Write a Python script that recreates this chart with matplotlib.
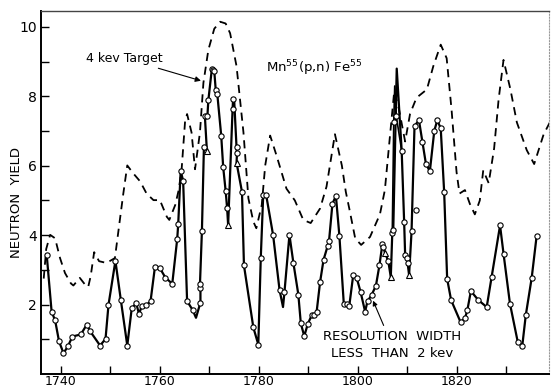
import matplotlib
matplotlib.use("Agg")
import matplotlib.pyplot as plt
import numpy as np

# ---- data ----
# solid curve (line order); marked = 1 -> open circle, 2 -> open triangle, 0 -> no marker (curve vertex)
solid_x = [1737.1, 1738.1, 1738.8, 1739.6, 1740.5, 1741.4, 1742.3, 1744.0, 1745.2, 1745.9,
           1747.9, 1749.0, 1749.6, 1751.0, 1752.1, 1753.4, 1754.3, 1755.2, 1755.8, 1756.3,
           1757.2, 1758.1, 1759.0, 1760.0, 1761.1, 1762.5, 1763.5, 1763.7, 1764.2, 1764.7,
           1765.5, 1766.6, 1767.3, 1768.2, 1768.2, 1768.1, 1768.5, 1768.9, 1769.5, 1769.1,
           1769.6, 1769.8, 1770.5, 1770.8, 1771.0, 1771.3, 1771.6, 1772.4, 1772.8, 1773.3,
           1773.6, 1773.8, 1774.7, 1774.8, 1775.0, 1775.5, 1775.6, 1775.5, 1776.6, 1777.0,
           1778.9, 1779.9, 1780.4, 1780.9, 1781.5, 1782.9, 1784.2, 1784.9, 1785.2, 1786.2,
           1787.0, 1788.0, 1788.5, 1789.2, 1789.9, 1790.7, 1791.2, 1791.7, 1792.4, 1793.1,
           1793.9, 1794.2, 1794.9, 1795.6, 1796.3, 1797.2, 1797.9, 1798.3, 1799.1, 1799.8,
           1800.6, 1801.5, 1802.0, 1802.8, 1803.7, 1804.4, 1805.0, 1805.2, 1805.5, 1806.2,
           1806.7, 1807.0, 1807.2, 1807.9, 1808.9, 1809.4, 1809.6, 1809.9, 1810.1, 1810.4,
           1810.9, 1811.5, 1812.4, 1813.1, 1813.8, 1814.6, 1815.5, 1816.1, 1816.8, 1817.5,
           1818.1, 1818.9, 1820.8, 1821.7, 1822.2, 1822.9, 1824.4, 1826.1, 1827.1, 1828.8,
           1829.5, 1830.8, 1832.4, 1833.3, 1834.0, 1835.2, 1836.2]
solid_y = [3.44, 1.79, 1.55, 0.94, 0.60, 0.80, 1.08, 1.14, 1.42, 1.23,
           0.82, 1.01, 1.99, 3.26, 2.13, 0.82, 1.89, 2.04, 1.72, 1.96,
           1.98, 2.09, 3.09, 3.05, 2.78, 2.60, 3.89, 4.31, 5.85, 5.57,
           2.10, 1.85, 1.62, 2.06, 2.47, 2.58, 4.13, 6.53, 6.44, 7.42,
           7.42, 7.89, 8.78, 8.75, 8.72, 8.17, 8.08, 6.87, 5.96, 5.27,
           4.77, 4.29, 7.63, 7.91, 7.95, 6.53, 6.37, 6.09, 5.25, 3.13,
           1.34, 0.85, 3.34, 5.17, 5.15, 4.00, 2.42, 1.93, 2.37, 4.01,
           3.20, 2.29, 1.46, 1.09, 1.44, 1.69, 1.69, 1.79, 2.65, 3.29,
           3.68, 3.82, 4.91, 5.13, 3.99, 2.01, 2.01, 1.96, 2.85, 2.77,
           2.36, 1.80, 2.10, 2.27, 2.55, 3.13, 3.74, 3.65, 3.50, 3.25,
           2.79, 4.06, 4.15, 8.80, 6.44, 4.39, 3.44, 3.34, 3.20, 2.85,
           4.11, 7.15, 7.31, 6.68, 6.06, 5.84, 7.01, 7.31, 7.08, 5.23,
           2.74, 2.13, 1.50, 1.60, 1.85, 2.39, 2.13, 1.93, 2.80, 4.28,
           3.47, 2.03, 0.91, 0.82, 1.69, 2.77, 3.98]
solid_mark = [1, 1, 1, 1, 1, 1, 1, 1, 1, 1,
              1, 1, 1, 1, 1, 1, 1, 1, 1, 1,
              1, 1, 1, 1, 1, 1, 1, 1, 1, 1,
              1, 1, 0, 1, 1, 1, 1, 1, 2, 1,
              1, 1, 1, 1, 1, 1, 1, 1, 1, 1,
              1, 2, 1, 1, 0, 1, 1, 2, 1, 1,
              1, 1, 1, 1, 1, 1, 1, 0, 1, 1,
              1, 1, 1, 1, 1, 1, 1, 1, 1, 1,
              1, 1, 1, 1, 1, 1, 1, 1, 1, 1,
              1, 1, 1, 1, 1, 1, 1, 1, 2, 1,
              2, 1, 1, 0, 1, 1, 1, 1, 1, 2,
              1, 1, 1, 1, 1, 1, 1, 1, 1, 1,
              1, 1, 1, 1, 1, 1, 1, 1, 1, 1,
              1, 1, 1, 1, 1, 1, 1]

# second (repeat) run through the 1807 peak
run2_x = [1807.0, 1807.3, 1807.5, 1807.8, 1808.9]
run2_y = [4.06, 7.25, 8.30, 7.44, 6.44]
run2_mark = [0, 1, 0, 1, 0]

# stray point
stray_x = [1811.8]
stray_y = [4.72]

# dashed curve: 4 kev target
dash_x = [1736.5, 1737.0, 1737.8, 1738.8, 1739.8, 1740.8, 1742.0, 1742.5, 1743.8, 1745.0,
          1745.5, 1746.0, 1746.7, 1747.7, 1749.2, 1750.9, 1751.9, 1752.6, 1753.4, 1754.5,
          1756.0, 1757.3, 1758.7, 1760.0, 1761.4, 1761.9, 1763.1, 1763.8, 1764.4, 1765.1,
          1765.5, 1766.4, 1767.1, 1768.1, 1768.8, 1769.8, 1771.0, 1772.2, 1773.3, 1774.2,
          1775.5, 1776.9, 1777.9, 1778.9, 1779.5, 1780.6, 1781.3, 1782.3, 1783.6, 1785.6,
          1787.3, 1789.0, 1790.5, 1792.4, 1793.7, 1795.4, 1796.8, 1797.6, 1798.3, 1799.5,
          1800.7, 1802.5, 1804.5, 1805.5, 1806.6, 1807.4, 1808.4, 1809.6, 1810.6, 1811.9,
          1814.0, 1815.3, 1816.8, 1818.0, 1819.0, 1820.0, 1820.6, 1821.7, 1822.7, 1823.7,
          1824.7, 1825.4, 1826.5, 1827.6, 1828.5, 1829.5, 1830.9, 1832.2, 1834.2, 1835.7,
          1837.6, 1839.3]
dash_y = [2.75, 3.60, 4.01, 3.91, 3.34, 2.91, 2.61, 2.55, 2.77, 2.55,
          2.51, 2.82, 3.51, 3.25, 3.20, 3.34, 4.44, 5.20, 6.01, 5.80,
          5.55, 5.20, 5.01, 5.01, 4.53, 4.44, 4.87, 5.30, 5.91, 7.30,
          7.49, 6.96, 5.90, 6.96, 8.39, 9.34, 9.95, 10.15, 10.10, 9.82,
          8.87, 6.96, 5.06, 4.39, 4.20, 4.87, 6.01, 6.87, 6.29, 5.34,
          5.00, 4.44, 4.35, 4.77, 5.40, 6.91, 6.01, 5.25, 4.77, 3.91,
          3.72, 3.95, 4.60, 5.30, 6.96, 8.15, 7.60, 6.70, 7.50, 7.96,
          8.20, 8.87, 9.49, 9.10, 7.60, 5.82, 5.20, 5.30, 4.90, 4.60,
          5.00, 5.87, 5.50, 6.50, 7.90, 9.05, 8.20, 7.25, 6.45, 6.05,
          6.90, 7.37]

x_ticks = [1740, 1750, 1760, 1770, 1780, 1790, 1800, 1810, 1820, 1830]
x_ticklabels = ["1740", "", "1760", "", "1780", "", "1800", "", "1820", ""]
y_ticks = [1, 2, 3, 4, 5, 6, 7, 8, 9, 10]
y_ticklabels = ["", "2", "", "4", "", "6", "", "8", "", "10"]

# ---- drawing ----
plt.rcParams['font.family'] = ['DejaVu Sans']
fig = plt.figure(figsize=(5.52, 3.91), dpi=100)
ax = fig.add_axes([41/552, 17/391, 508/552, 363/391])

ax.plot(dash_x, dash_y, color='black', lw=1.3, linestyle=(0, (4.5, 3.2)))
ax.plot(solid_x, solid_y, color='black', lw=1.6, zorder=3)
ax.plot(run2_x, run2_y, color='black', lw=1.2, zorder=3)

sx = np.array(solid_x); sy = np.array(solid_y); sm = np.array(solid_mark)
ax.plot(sx[sm == 1], sy[sm == 1], 'o', ms=3.8, mfc='white', mec='black', mew=0.8, zorder=4)
ax.plot(sx[sm == 2], sy[sm == 2], '^', ms=4.0, mfc='white', mec='black', mew=0.8, zorder=4)
rx = np.array(run2_x); ry = np.array(run2_y); rm = np.array(run2_mark)
ax.plot(rx[rm == 1], ry[rm == 1], 'o', ms=3.8, mfc='white', mec='black', mew=0.8, zorder=4)
ax.plot(stray_x, stray_y, 'o', ms=3.8, mfc='white', mec='black', mew=0.8, zorder=4)

ax.set_xlim(1735.95, 1838.7)
ax.set_ylim(0, 10.46)
ax.set_xticks(x_ticks)
ax.set_xticklabels(x_ticklabels)
ax.set_yticks(y_ticks)
ax.set_yticklabels(y_ticklabels)
ax.tick_params(direction='in', length=6, width=1.0, labelsize=10, pad=3)
ax.tick_params(axis='x', pad=1, labelsize=9)

for s in ['left', 'bottom']:
    ax.spines[s].set_linewidth(1.4)
ax.spines['top'].set_linewidth(1.0)
ax.spines['top'].set_color('#444444')
ax.spines['right'].set_linewidth(0.8)
ax.spines['right'].set_color('#999999')
ax.spines['right'].set_linestyle(':')

fig.text(17/552, 1 - 203/391, "NEUTRON  YIELD", rotation=90, ha='center', va='center', fontsize=9.5)

ax.annotate("4 kev Target", xy=(1768.3, 8.45), xytext=(1745.0, 9.1),
            fontsize=9, ha='left', va='center',
            arrowprops=dict(arrowstyle='-|>', color='black', lw=0.8, mutation_scale=8,
                            shrinkA=2, shrinkB=0))
ax.text(1781.4, 8.8, r"Mn$^{55}$(p,n) Fe$^{55}$", fontsize=9.5, ha='left', va='center')
ax.annotate("RESOLUTION  WIDTH\nLESS  THAN  2 kev", xy=(1803.0, 2.15), xytext=(1807.0, 0.85),
            fontsize=9.5, ha='center', va='center', linespacing=1.4,
            arrowprops=dict(arrowstyle='-|>', color='black', lw=0.8, mutation_scale=7,
                            shrinkA=1, shrinkB=1, relpos=(0.45, 1.0)))

fig.savefig("out.png", dpi=100)
